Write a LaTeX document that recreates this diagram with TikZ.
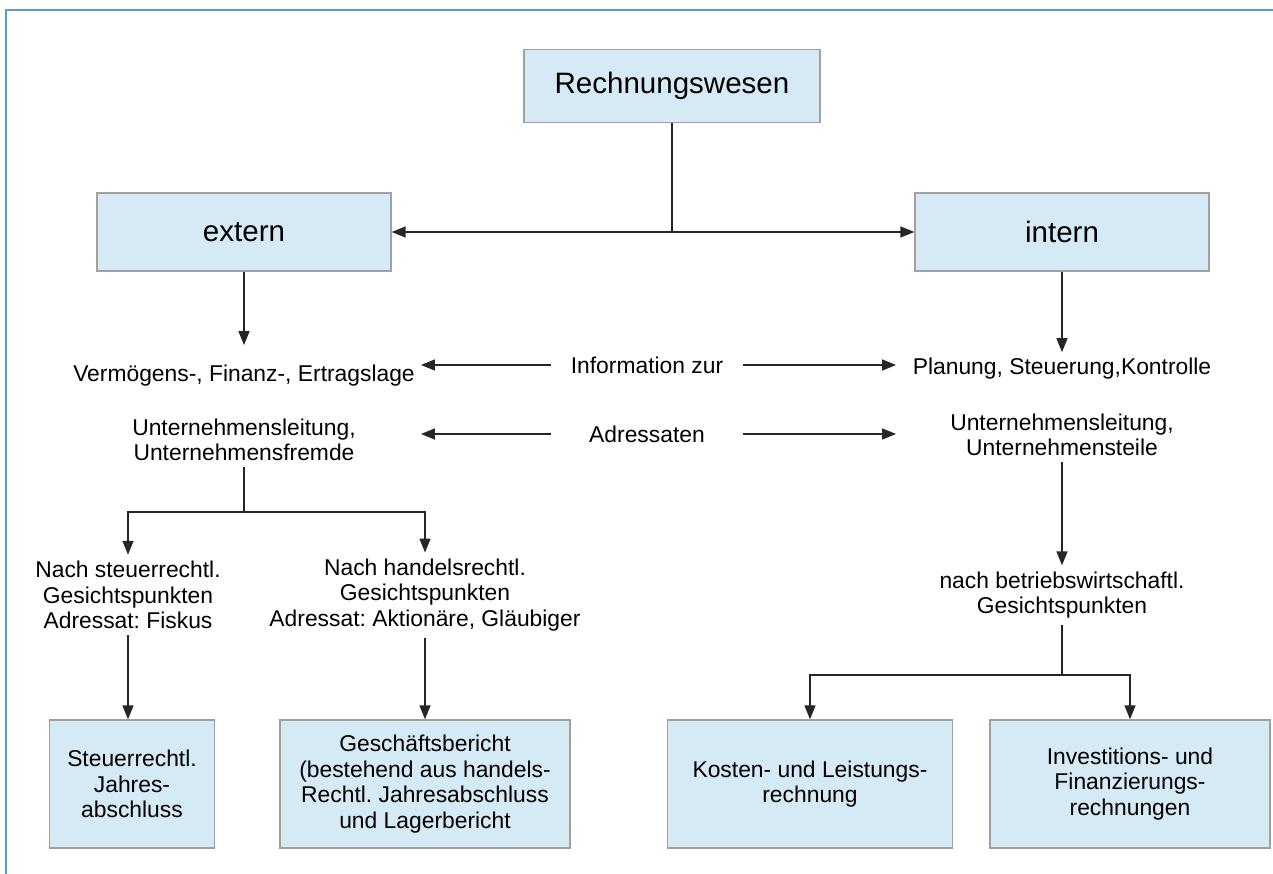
\documentclass[tikz,border=0pt]{standalone}
\usepackage{fontspec}
\setmainfont{Liberation Sans}
\usetikzlibrary{arrows.meta}
\definecolor{boxfill}{RGB}{214,234,246}
\definecolor{boxline}{RGB}{160,160,160}
\definecolor{frameblue}{RGB}{91,155,213}
\frenchspacing

\begin{document}
\begin{tikzpicture}[x=0.02cm,y=-0.02cm,>={Triangle[length=2.8mm,width=2.2mm]},
  box/.style={draw=boxline,fill=boxfill,line width=0.8pt,align=center,inner sep=2pt},
  big/.style={font=\fontsize{16.8}{20}\selectfont},
  txt/.style={align=center,font=\fontsize{13}{14.6}\selectfont},
  con/.style={line width=0.9pt,black!85}]
  \useasboundingbox (0,0) rectangle (1273,874);
  \draw[frameblue,line width=1.3pt] (6,874) -- (6,10) -- (1273,10);
  % top level
  \node[box,big,minimum width=5.92cm,minimum height=1.46cm] (rw) at (672,86) {Rechnungswesen};
  \node[box,big,minimum width=5.88cm,minimum height=1.56cm] (ext) at (244,232) {extern};
  \node[box,big,minimum width=5.88cm,minimum height=1.56cm] (int) at (1062,232) {intern};
  \draw[con] (rw) -- (rw |- ext);
  \draw[con,->] (rw |- ext) -- (ext);
  \draw[con,->] (rw |- ext) -- (int);
  % middle texts
  \node[txt] (verm) at (244,376) {Vermögens-, Finanz-, Ertragslage};
  \node[txt] (plan) at (1062,369) {Planung, Steuerung,Kontrolle};
  \node[txt,minimum width=3.82cm,inner sep=0pt] (info) at (647,365) {Information zur};
  \node[txt,minimum width=3.82cm,inner sep=0pt] (adr) at (647,434) {Adressaten};
  \node[txt] (ulext) at (244,440) {Unternehmensleitung,\\Unternehmensfremde};
  \node[txt] (ulint) at (1062,435) {Unternehmensleitung,\\Unternehmensteile};
  \draw[con,->,shorten >=8pt] (ext) -- (verm);
  \draw[con,->] (int) -- (plan);
  \draw[con,->] (info.west) -- (info.west -| verm.east);
  \draw[con,->,shorten >=6pt] (info.east) -- (info.east -| plan.west);
  \draw[con,->] (adr.west) -- (adr.west -| verm.east);
  \draw[con,->,shorten >=6pt] (adr.east) -- (adr.east -| plan.west);
  % left branch
  \coordinate (jl) at (244,512);
  \node[txt] (steu) at (128,595) {Nach steuerrechtl.\\Gesichtspunkten\\Adressat: Fiskus};
  \node[txt] (hand) at (425,595) {Nach handelsrechtl.\\Gesichtspunkten\\Adressat: Aktionäre, Gläubiger};
  \draw[con] (ulext) -- (jl);
  \draw[con,->] (jl) -| (steu);
  \draw[con,->] (jl) -| (hand);
  \node[box,txt,minimum width=3.3cm,minimum height=2.56cm] (sja) at (132,784) {Steuerrechtl.\\Jahres-\\abschluss};
  \node[box,txt,minimum width=5.8cm,minimum height=2.56cm] (gb) at (425,784) {Geschäftsbericht\\(bestehend aus handels-\\Rechtl. Jahresabschluss\\und Lagerbericht};
  \draw[con,->] (steu.south) -- (steu.south |- sja.north);
  \draw[con,->] (hand) -- (gb);
  % right branch
  \coordinate (jr) at (1062,675);
  \node[txt] (bw) at (1062,595) {nach betriebswirtschaftl.\\Gesichtspunkten};
  \draw[con,->] (ulint) -- (bw);
  \draw[con] (bw) -- (jr);
  \node[box,txt,minimum width=5.7cm,minimum height=2.56cm] (klr) at (810,784) {Kosten- und Leistungs-\\rechnung};
  \node[box,txt,minimum width=5.6cm,minimum height=2.56cm] (ifr) at (1130,784) {Investitions- und\\Finanzierungs-\\rechnungen};
  \draw[con,->] (jr) -| (klr);
  \draw[con,->] (jr) -| (ifr);
\end{tikzpicture}
\end{document}
